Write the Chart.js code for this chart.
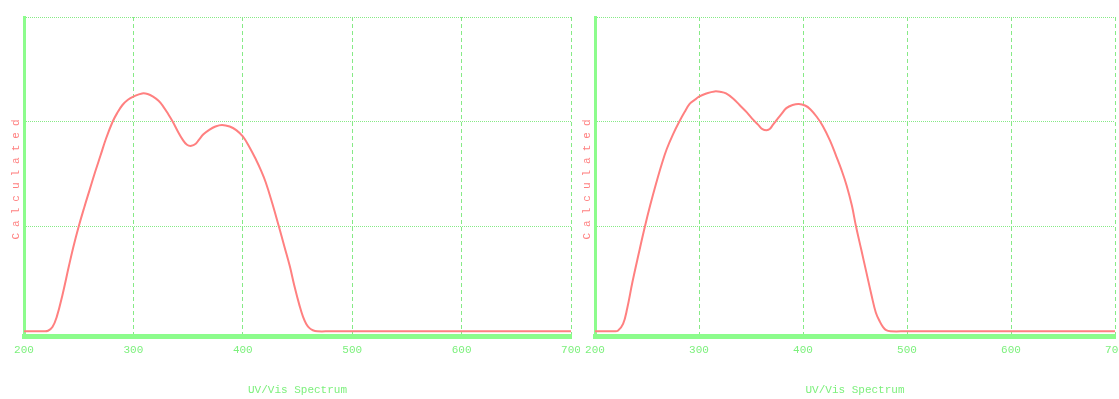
<!DOCTYPE html>
<html>
<head>
<meta charset="utf-8">
<script src="https://cdn.jsdelivr.net/npm/chart.js@4/dist/chart.umd.min.js"></script>
<style>
  body { margin: 0; background: #fff; }
  .box { position: absolute; top: 0; height: 399px; }
  #left { left: 0; width: 580px; }
  #right { left: 571px; width: 548px; }
</style>
</head>
<body>
<div class="box" id="left"><canvas id="chartA"></canvas></div>
<div class="box" id="right"><canvas id="chartB"></canvas></div>
<script>
/* =========================
   DATA
========================= */
const xTicks = [200, 300, 400, 500, 600, 700];

const wavelengthsA = [200, 210, 218, 222, 226, 230, 235, 241, 245, 250, 255, 260, 265, 270, 275, 281,
  285, 290, 295, 300, 308, 313, 318, 323, 327, 332, 336, 341, 345, 349, 353, 357, 360, 364, 369, 375,
  381, 388, 394, 400, 406, 412, 416, 421, 427, 433, 438, 443, 447, 452, 455, 458, 461, 464, 468, 480,
  500, 550, 600, 650, 700];
const calculatedA = [0, 0, 0, 0.005, 0.04, 0.14, 0.34, 0.62, 0.8, 1.0, 1.18, 1.35, 1.52, 1.68, 1.84, 2.0,
  2.08, 2.16, 2.21, 2.24, 2.27, 2.265, 2.24, 2.2, 2.15, 2.07, 2.0, 1.9, 1.83, 1.78, 1.77, 1.79, 1.83, 1.88, 1.92, 1.955,
  1.97, 1.955, 1.92, 1.86, 1.76, 1.64, 1.55, 1.42, 1.22, 1.0, 0.81, 0.62, 0.44, 0.24, 0.14, 0.07, 0.03, 0.01, 0, 0,
  0, 0, 0, 0, 0];

const wavelengthsB = [200, 210, 218, 222, 227, 231, 236, 242, 248, 253, 259, 264, 269, 275, 281, 286,
  291, 296, 300, 307, 315, 321, 326, 333, 339, 346, 352, 357, 361, 365, 368, 371, 375, 379, 384, 390,
  396, 402, 407, 413, 419, 426, 432, 437, 442, 447, 451, 456, 461, 466, 470, 474, 477, 480, 484, 500,
  550, 600, 650, 700];
const calculatedB = [0, 0, 0, 0.005, 0.07, 0.22, 0.47, 0.74, 1.0, 1.2, 1.42, 1.59, 1.74, 1.88, 2.0, 2.09,
  2.17, 2.21, 2.24, 2.27, 2.29, 2.285, 2.27, 2.22, 2.16, 2.09, 2.02, 1.97, 1.93, 1.92, 1.93, 1.97, 2.02, 2.07, 2.13, 2.16,
  2.17, 2.155, 2.12, 2.05, 1.96, 1.82, 1.67, 1.54, 1.39, 1.2, 1.0, 0.78, 0.56, 0.34, 0.18, 0.09, 0.04, 0.01, 0, 0,
  0, 0, 0, 0];

/* =========================
   STYLE
========================= */
const RED = "#ff8080";
const GREEN = "#7cf07c";
const GRID = "#86ea86";
const AXIS = "#8cfc8c";
const MONO = "'Liberation Mono', 'DejaVu Sans Mono', monospace";

// spaced-out y title, like the original applet
const spacedTitle = {
  id: "spacedTitle",
  beforeDraw(chart) {
    const s = chart.scales.y;
    if (s._spaced) return;
    const orig = s.drawTitle;
    s.drawTitle = function () {
      this.ctx.save();
      this.ctx.letterSpacing = "6px";
      orig.call(this);
      this.ctx.restore();
    };
    s._spaced = true;
  }
};

function makeChart(id, xs, ys, padRight) {
  const points = xs.map((x, i) => ({ x: x, y: ys[i] }));

  return new Chart(document.getElementById(id), {
    type: "line",
    data: {
      datasets: [{
        data: points,
        borderColor: RED,
        borderWidth: 2,
        pointRadius: 0,
        tension: 0.4,
        fill: false
      }]
    },
    options: {
      responsive: true,
      maintainAspectRatio: false,
      animation: false,
      layout: { padding: { left: 0, right: padRight, top: 17, bottom: 0 } },
      plugins: { legend: { display: false }, tooltip: { enabled: false } },
      scales: {
        x: {
          type: "linear",
          min: xTicks[0],
          max: xTicks[xTicks.length - 1],
          afterFit: (scale) => {
            scale.height = 63;
            scale.paddingLeft = 0;
            scale.paddingRight = 0;
          },
          ticks: {
            stepSize: 100,
            color: GREEN,
            padding: 7,
            maxRotation: 0,
            font: { family: MONO, size: 11 }
          },
          grid: { color: GRID, drawTicks: false, lineWidth: 1 },
          border: { color: AXIS, width: 5, dash: [4, 3] },
          title: {
            display: true,
            text: "UV/Vis Spectrum",
            color: GREEN,
            font: { family: MONO, size: 11 },
            padding: { top: 0, bottom: 2 }
          }
        },
        y: {
          min: -0.045,
          max: 3,
          afterFit: (scale) => {
            scale.width = 24;
            scale.paddingTop = 0;
            scale.paddingBottom = 0;
          },
          ticks: { display: false, stepSize: 1 },
          grid: { color: GRID, drawTicks: false, lineWidth: 1 },
          border: { color: AXIS, width: 3, dash: [1, 1] },
          title: {
            display: true,
            text: "Calculated",
            color: RED,
            font: { family: MONO, size: 11 },
            padding: { top: 9, bottom: 0 }
          }
        }
      }
    },
    plugins: [spacedTitle]
  });
}

makeChart("chartA", wavelengthsA, calculatedA, 9);
makeChart("chartB", wavelengthsB, calculatedB, 4);
</script>
</body>
</html>
